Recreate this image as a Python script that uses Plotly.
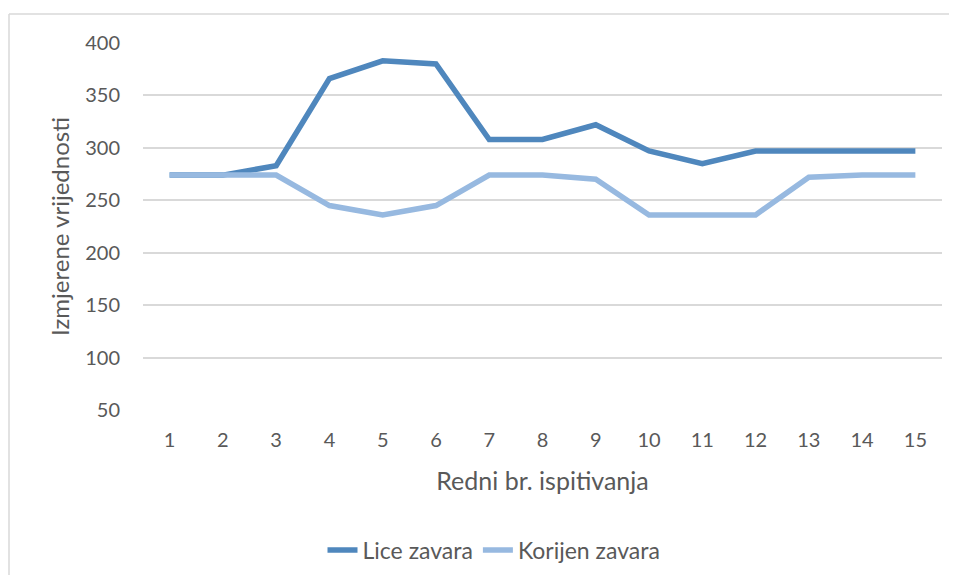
import plotly.graph_objects as go

categories = [str(i) for i in range(1, 16)]
lice_zavara = [274, 274, 283, 366, 383, 380, 308, 308, 322, 297, 285, 297, 297, 297, 297]
korijen_zavara = [274, 274, 274, 245, 236, 245, 274, 274, 270, 236, 236, 236, 272, 274, 274]
y_ticks = [50, 100, 150, 200, 250, 300, 350, 400]

# page body has an 8px default margin, so the figure is laid out in page coords minus 8
OFF = 8
W, H = 957 - OFF, 583 - 2 * OFF
L, T = 143 - OFF, 43 - OFF
PR, PB = 942 - OFF, 410 - OFF
R, B = W - PR, H - PB
pw, ph = PR - L, PB - T

font_family = "Lato, Open Sans, sans-serif"
grey = "#595959"
border = "#D9D9D9"

fig = go.Figure()
fig.add_trace(go.Scatter(x=categories, y=lice_zavara, mode="lines", name="Lice zavara",
                         line=dict(color="#4F87BD", width=5.5)))
fig.add_trace(go.Scatter(x=categories, y=korijen_zavara, mode="lines", name="Korijen zavara",
                         line=dict(color="#97B9E0", width=5.5)))

def px_x(p):  # page x -> paper
    return (p - OFF - L) / pw

def px_y(p):  # page y -> paper
    return (PB - (p - OFF)) / ph

fig.update_layout(
    width=W, height=H,
    margin=dict(l=L, r=R, t=T, b=B, autoexpand=False),
    paper_bgcolor="white", plot_bgcolor="white",
    font=dict(family=font_family, color=grey, size=21),
    showlegend=True,
    legend=dict(orientation="h", x=px_x(494), xanchor="center", y=px_y(550), yanchor="middle",
                font=dict(size=23, color=grey), bgcolor="rgba(0,0,0,0)"),
    xaxis=dict(type="category", range=[-0.5, 14.5], showgrid=False, showline=False, automargin=False,
               zeroline=False, ticks="", ticklabelstandoff=16, tickfont=dict(size=20, color=grey),
               title=dict(text="Redni br. ispitivanja", font=dict(size=25, color=grey), standoff=22)),
    yaxis=dict(range=[50, 400], tickvals=y_ticks, showgrid=True, gridcolor="#D9D9D9", gridwidth=1.5,
               zeroline=False, showline=False, ticks="", ticklabelstandoff=22, automargin=False,
               tickfont=dict(size=20, color=grey),
               title=dict(text="Izmjerene vrijednosti", font=dict(size=24, color=grey), standoff=8)),
    shapes=[
        dict(type="line", xref="paper", yref="paper", x0=px_x(9), x1=px_x(957), y0=px_y(14), y1=px_y(14),
             line=dict(color=border, width=1.5), layer="below"),
        dict(type="line", xref="paper", yref="paper", x0=px_x(9), x1=px_x(9), y0=px_y(14), y1=px_y(583),
             line=dict(color=border, width=1.5), layer="below"),
    ],
)

fig.write_html("out.html")
